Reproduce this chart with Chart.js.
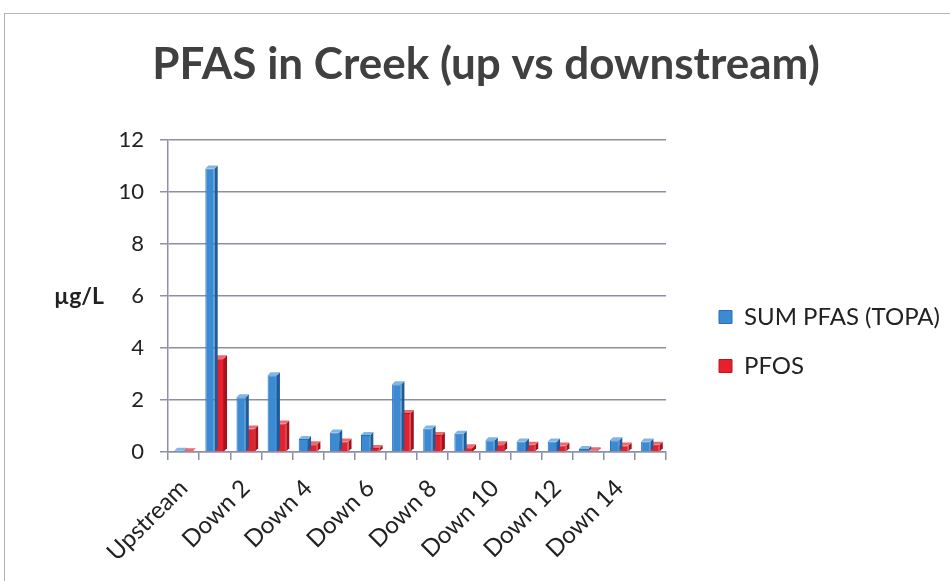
<!DOCTYPE html>
<html>
<head>
<meta charset="utf-8">
<script src="https://cdn.jsdelivr.net/npm/chart.js@4.4.1/dist/chart.umd.min.js"></script>
<style>
  html, body { margin: 0; padding: 0; background: #fff; overflow: hidden; }
  #frame { position: absolute; left: 4px; top: 13px; width: 1000px; height: 1000px; border: 1px solid #b4b4b4; }
  #wrap { position: absolute; left: 0; top: 0; width: 950px; height: 581px; }
</style>
</head>
<body>
<div id="frame"></div>
<div id="wrap"><canvas id="pfasChart" width="950" height="581"></canvas></div>
<script>
// data
const categories = ['Upstream', 'Down 1', 'Down 2', 'Down 3', 'Down 4', 'Down 5', 'Down 6', 'Down 7',
  'Down 8', 'Down 9', 'Down 10', 'Down 11', 'Down 12', 'Down 13', 'Down 14', 'Down 15'];
const sumPfas = [0.05, 10.9, 2.1, 2.95, 0.5, 0.75, 0.65, 2.6, 0.9, 0.7, 0.45, 0.4, 0.4, 0.12, 0.45, 0.4];
const pfos = [0.03, 3.6, 0.9, 1.1, 0.3, 0.4, 0.15, 1.5, 0.65, 0.18, 0.3, 0.28, 0.25, 0.07, 0.25, 0.28];
const yMin = 0, yMax = 12, yStep = 2;

const FONT = 'Lato, "Open Sans", "Liberation Sans", sans-serif';
const sideColors = ['#1d5c9a', '#a3121a'];
const topColors = ['#7fb6e6', '#f2686f'];

// y axis unit, drawn flat left of the axis like the original
const unitLabel = {
  id: 'unitLabel',
  afterDraw(chart) {
    const c = chart.ctx;
    c.save();
    c.font = 'bold 23px ' + FONT;
    c.fillStyle = '#222';
    c.textAlign = 'left'; c.textBaseline = 'middle';
    c.fillText('µg/L', 54, 297);
    c.restore();
  }
};

// fake depth on each bar, from the bar element geometry
const barDepth = {
  id: 'barDepth',
  afterDatasetDraw(chart, args) {
    const c = chart.ctx, d = 3;
    const meta = args.meta;
    c.save();
    meta.data.forEach(bar => {
      const p = bar.getProps(['x', 'y', 'base', 'width'], true);
      const l = p.x - p.width / 2, r = p.x + p.width / 2;
      c.fillStyle = sideColors[args.index];
      c.beginPath();
      c.moveTo(r, p.y); c.lineTo(r + d, p.y - d); c.lineTo(r + d, p.base - d); c.lineTo(r, p.base);
      c.closePath(); c.fill();
      c.fillStyle = topColors[args.index];
      c.beginPath();
      c.moveTo(l, p.y); c.lineTo(l + d, p.y - d); c.lineTo(r + d, p.y - d); c.lineTo(r, p.y);
      c.closePath(); c.fill();
    });
    c.restore();
  }
};

function drawChart() {
  new Chart(document.getElementById('pfasChart').getContext('2d'), {
    type: 'bar',
    data: {
      labels: categories,
      datasets: [
        { label: 'SUM PFAS (TOPA)', data: sumPfas, backgroundColor: '#3b8ad4', borderColor: '#2a6fb3', borderWidth: 1 },
        { label: 'PFOS', data: pfos, backgroundColor: '#e8202c', borderColor: '#c0141f', borderWidth: 1 }
      ]
    },
    options: {
      responsive: false,
      animation: false,
      layout: { padding: { left: 22, right: 0, top: 0, bottom: 0 } },
      datasets: { bar: { categoryPercentage: 0.6, barPercentage: 1.0 } },
      plugins: {
        title: {
          display: true, text: 'PFAS in Creek (up vs downstream)',
          color: '#404040', font: { family: FONT, size: 44, weight: 'bold' },
          padding: { top: 38, bottom: 49 }
        },
        legend: {
          position: 'right',
          maxWidth: 400,
          title: { display: true, text: ' ', font: { size: 10 }, padding: { top: 0, bottom: 90 } },
          labels: { color: '#222', font: { family: FONT, size: 24 }, boxWidth: 13, boxHeight: 13, padding: 25 }
        },
        tooltip: { enabled: false }
      },
      scales: {
        x: {
          grid: { display: true, drawOnChartArea: false, drawTicks: true, tickLength: 8, color: '#8f8fa3', lineWidth: 1.5, offset: true },
          border: { display: true, color: '#8f8fa3', width: 1.5 },
          ticks: {
            autoSkip: false, maxRotation: 45, minRotation: 45, padding: 14,
            color: '#222', font: { family: FONT, size: 24 },
            callback: (v, i) => (i % 2 === 0 ? categories[i] : '')
          },
          afterFit: s => { s.height = 129; }
        },
        y: {
          min: yMin, max: yMax,
          ticks: { stepSize: yStep, padding: 16, color: '#222', font: { family: FONT, size: 22 } },
          grid: { color: '#8f8fa3', lineWidth: 1.5, tickLength: 8 },
          border: { display: true, color: '#8f8fa3', width: 1.5 },
          afterFit: s => { s.width = 146; }
        },
        gap: {
          position: 'right', display: true,
          grid: { display: false }, border: { display: false }, ticks: { display: false },
          afterFit: s => { s.width = 28; }
        }
      }
    },
    plugins: [barDepth, unitLabel]
  });
}

Promise.all([
  document.fonts.load('24px Lato'),
  document.fonts.load('bold 44px Lato')
]).then(drawChart, drawChart);
</script>
</body>
</html>
